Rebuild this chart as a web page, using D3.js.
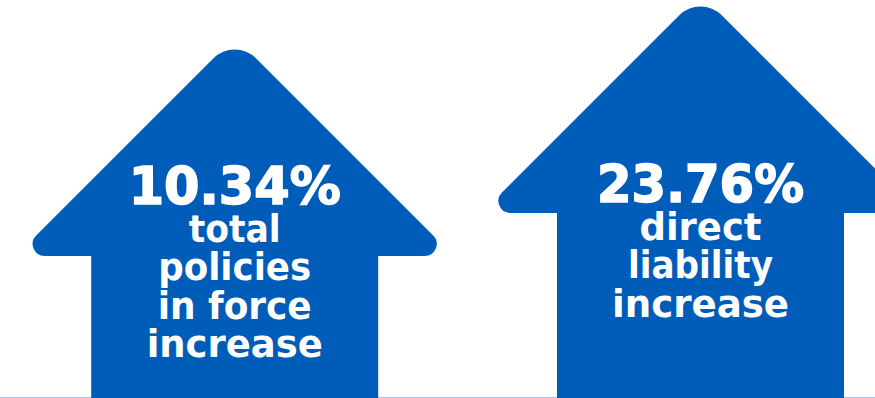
<!DOCTYPE html>
<html>
<head>
<meta charset="utf-8">
<script src="https://cdn.jsdelivr.net/npm/d3@7"></script>
<style>
  html, body { margin: 0; padding: 0; background: #ffffff; }
  svg { display: block; }
</style>
</head>
<body>
<script>
// ---- data ----
const categories = ["policies", "liability"];
const values = [10.34, 23.76];
const valueLabels = ["10.34%", "23.76%"];
const descriptionLines = [
  ["total", "policies", "in force", "increase"],
  ["direct", "liability", "increase"]
];

// ---- layout ----
const W = 875, H = 398;
const blue = "#005CB9";
const svg = d3.select("body").append("svg").attr("width", W).attr("height", H);

// baseline rule
svg.append("line")
  .attr("x1", 0).attr("x2", W).attr("y1", H - 0.5).attr("y2", H - 0.5)
  .attr("stroke", "#a9c5e6").attr("stroke-width", 1);

const x = d3.scalePoint().domain(categories).range([234.7, 700.5]);
const headBottom = d3.scaleLinear().domain(d3.extent(values)).range([256, 213]);

const shaftHalf = 143.5, headHalf = 219, tipR = 12, apexR = 30;

function arrowPath(cx, hb) {
  const p = d3.path();
  const apexY = hb - headHalf;
  p.moveTo(cx - shaftHalf, H + 2);
  p.lineTo(cx - shaftHalf, hb);
  p.arcTo(cx - headHalf, hb, cx, apexY, tipR);
  p.arcTo(cx, apexY, cx + headHalf, hb, apexR);
  p.arcTo(cx + headHalf, hb, cx + shaftHalf, hb, tipR);
  p.lineTo(cx + shaftHalf, hb);
  p.lineTo(cx + shaftHalf, H + 2);
  p.closePath();
  return p.toString();
}

const g = svg.selectAll("g.arrow")
  .data(categories.map((c, i) => ({ c, i, v: values[i] })))
  .join("g").attr("class", "arrow");

g.append("path")
  .attr("d", d => arrowPath(x(d.c), headBottom(d.v)))
  .attr("fill", blue);

const numberWidths = [212, 207];
const numberBase = [204, 202];
g.append("text")
  .attr("x", d => x(d.c))
  .attr("y", d => numberBase[d.i])
  .attr("text-anchor", "middle")
  .attr("font-family", "DejaVu Sans")
  .attr("font-weight", "bold")
  .attr("font-size", 51)
  .attr("fill", "#fff")
  .attr("stroke", "#fff")
  .attr("stroke-width", 1.6)
  .attr("textLength", d => numberWidths[d.i])
  .attr("lengthAdjust", "spacingAndGlyphs")
  .text(d => valueLabels[d.i]);

const lineWidths = [[92, 153, 154, 176], [122, 145, 177]];
g.each(function(d) {
  const sel = d3.select(this);
  descriptionLines[d.i].forEach((t, j) => {
    sel.append("text")
      .attr("x", x(d.c))
      .attr("y", numberBase[d.i] + 38 + j * 38.3)
      .attr("text-anchor", "middle")
      .attr("font-family", "DejaVu Sans")
      .attr("font-weight", "bold")
      .attr("font-size", 37)
      .attr("fill", "#fff")
      .attr("textLength", lineWidths[d.i][j])
      .attr("lengthAdjust", "spacingAndGlyphs")
      .text(t);
  });
});
</script>
</body>
</html>
